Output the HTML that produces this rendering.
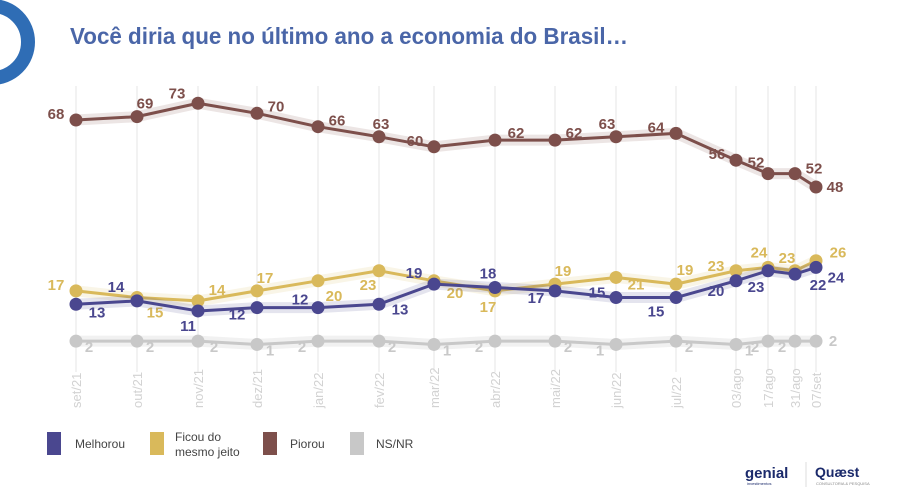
<!DOCTYPE html>
<html><head><meta charset="utf-8"><style>
body{margin:0;background:#fff;width:900px;height:501px;overflow:hidden;font-family:"Liberation Sans",sans-serif}
svg{display:block}
</style></head><body>
<svg id="c" width="900" height="501">
<circle cx="-8" cy="42" r="36" fill="none" stroke="#2f6db5" stroke-width="14"/>
<text x="70" y="44" font-size="23" font-weight="bold" fill="#4a66a8" textLength="558" lengthAdjust="spacingAndGlyphs">Você diria que no último ano a economia do Brasil…</text>
<g id="grid"></g><g id="series"></g><g id="xl"></g>
<g font-size="12" fill="#444">
<rect x="47" y="432" width="14" height="23" fill="#4a478f"/>
<text x="75" y="448">Melhorou</text>
<rect x="150" y="432" width="14" height="23" fill="#d9b95b"/>
<text x="175" y="441">Ficou do</text>
<text x="175" y="456">mesmo jeito</text>
<rect x="263" y="432" width="14" height="23" fill="#7d4f4b"/>
<text x="290" y="448">Piorou</text>
<rect x="350" y="432" width="14" height="23" fill="#c8c8c8"/>
<text x="376" y="448">NS/NR</text>
</g>
<g>
<text x="745" y="478" font-size="15" font-weight="bold" fill="#1b2a6b">genial</text>
<text x="747" y="485" font-size="4" fill="#1b2a6b">investimentos</text>
<line x1="806" y1="462" x2="806" y2="487" stroke="#ddd"/>
<text x="815" y="477" font-size="14" font-weight="bold" fill="#1b2a6b">Quæst</text>
<text x="816" y="485" font-size="4" fill="#888">CONSULTORIA &amp; PESQUISA</text>
</g>
</svg>
<script>
const categories=["set/21","out/21","nov/21","dez/21","jan/22","fev/22","mar/22","abr/22","mai/22","jun/22","jul/22","03/ago","17/ago","31/ago","07/set"];
const xPos=[76,137,198,257,318,379,434,495,555,616,676,736,768,795,816];
const melhorou=[13,14,11,12,12,13,19,18,17,15,15,20,23,22,24];
const ficou=[17,15,14,17,20,23,20,17,19,21,19,23,24,23,26];
const piorou=[68,69,73,70,66,63,60,62,62,63,64,56,52,52,48];
const nsnr=[2,2,2,1,2,2,1,2,2,1,2,1,2,2,2];
const offP=[[-20,-6],[8,-13],[-21,-10],[19,-7],[19,-6],[2,-13],[-19,-6],[21,-7],[19,-7],[-9,-13],[-20,-6],[-19,-6],[-12,-11],[19,-5],[19,0]];
const offM=[[21,8],[-21,-14],[-10,15],[-20,7],[-18,-8],[21,5],[-20,-11],[-7,-14],[-19,7],[-19,-5],[-20,14],[-20,10],[-12,16],[23,11],[20,10]];
const offF=[[-20,-6],[18,15],[19,-11],[8,-13],[16,15],[-11,14],[21,12],[-7,16],[8,-13],[20,7],[9,-14],[-20,-5],[-9,-15],[-8,-13],[22,-8]];
const offN=[[13,6],[13,6],[16,6],[13,6],[-16,6],[13,6],[13,6],[-16,6],[13,6],[-16,6],[13,6],[13,6],[-13,6],[-13,6],[17,0]];
const x=i=>xPos[i];
const y=v=>120+(68-v)*3.35;
const NS="http://www.w3.org/2000/svg";
function mk(t,a,p){const e=document.createElementNS(NS,t);for(const k in a)e.setAttribute(k,a[k]);p.appendChild(e);return e;}
const grid=document.getElementById('grid'),xl=document.getElementById('xl'),sg=document.getElementById('series');
categories.forEach((c,i)=>{
 const l=mk('line',{x1:x(i),x2:x(i),y1:86,y2:372,stroke:'#e6e6e6','stroke-width':1},grid);
 
 
 const t=mk('text',{transform:`translate(${x(i)+5},408) rotate(-90)`,'font-size':13,fill:'#d2d2d2','text-anchor':'start'},xl);
 t.textContent=c;
 
 
});
function draw(name,vals,col,band,offs){
 const g=mk('g',{},sg);
 
 
 const pts=vals.map((v,i)=>x(i)+','+y(v)).join(' ');
 mk('polyline',{points:pts,fill:'none',stroke:band,'stroke-width':11,'stroke-linejoin':'round'},g);
 const pl=mk('polyline',{points:pts,fill:'none',stroke:col,'stroke-width':3,'stroke-linejoin':'round'},g);
 
 
 vals.forEach((v,i)=>{
  const c=mk('circle',{cx:x(i),cy:y(v),r:6.5,fill:col},g);
  
  
  const t=mk('text',{x:x(i)+offs[i][0],y:y(v)+offs[i][1]+5,'font-size':15,'font-weight':'bold',fill:col,'text-anchor':'middle'},g);
  t.textContent=v;
  
  
 });
}
draw('nsnr',nsnr,'#c8c8c8','rgba(200,200,200,0.25)',offN);
draw('piorou',piorou,'#7d4f4b','rgba(125,79,75,0.15)',offP);
draw('ficou',ficou,'#d9b95b','rgba(217,185,91,0.15)',offF);
draw('melhorou',melhorou,'#4a478f','rgba(74,71,143,0.15)',offM);
</script>
</body></html>
